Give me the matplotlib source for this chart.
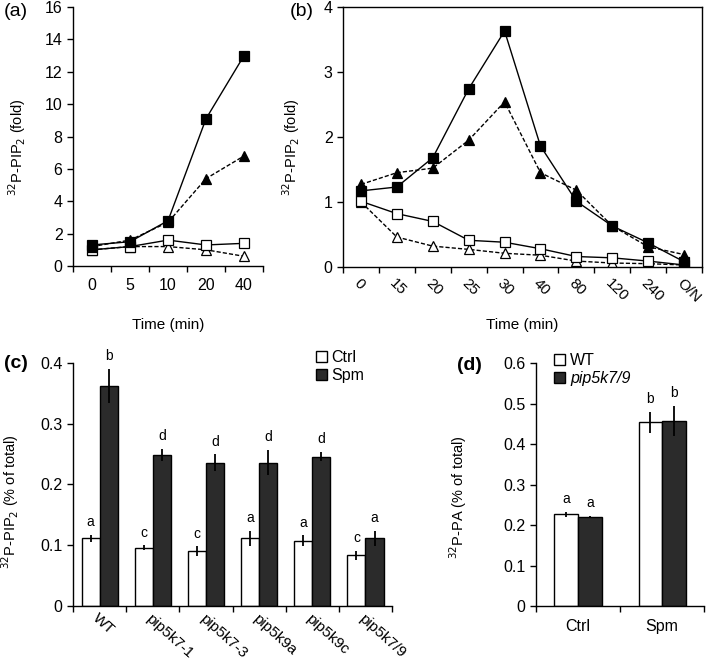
import matplotlib.pyplot as plt
import numpy as np

plt.rcParams['font.family'] = ['Liberation Sans', 'DejaVu Sans']

# panel (a)
time_a = ["0", "5", "10", "20", "40"]
a_spm_wt = [1.3, 1.5, 2.8, 9.1, 13.0]
a_spm_mut = [1.2, 1.6, 2.7, 5.4, 6.8]
a_ctrl_wt = [1.0, 1.2, 1.6, 1.3, 1.4]
a_ctrl_mut = [1.0, 1.2, 1.2, 1.0, 0.6]

# panel (b)
time_b = ["0", "15", "20", "25", "30", "40", "80", "120", "240", "O/N"]
b_spm_wt = [1.17, 1.23, 1.68, 2.74, 3.63, 1.86, 1.01, 0.63, 0.37, 0.08]
b_spm_mut = [1.27, 1.45, 1.52, 1.95, 2.54, 1.45, 1.18, 0.63, 0.31, 0.19]
b_ctrl_wt = [1.01, 0.82, 0.70, 0.41, 0.38, 0.28, 0.16, 0.14, 0.09, 0.03]
b_ctrl_mut = [1.00, 0.46, 0.32, 0.27, 0.21, 0.18, 0.09, 0.06, 0.05, 0.03]

# panel (c)
lines_c = ["WT", "pip5k7-1", "pip5k7-3", "pip5k9a", "pip5k9c", "pip5k7/9"]
c_ctrl = [0.111, 0.096, 0.090, 0.111, 0.107, 0.083]
c_ctrl_err = [0.006, 0.004, 0.008, 0.013, 0.009, 0.0075]
c_spm = [0.363, 0.249, 0.236, 0.236, 0.246, 0.111]
c_spm_err = [0.028, 0.010, 0.014, 0.021, 0.008, 0.0125]
c_ctrl_let = ["a", "c", "c", "a", "a", "c"]
c_spm_let = ["b", "d", "d", "d", "d", "a"]

# panel (d)
treat_d = ["Ctrl", "Spm"]
d_wt = [0.227, 0.454]
d_wt_err = [0.006, 0.026]
d_mut = [0.220, 0.458]
d_mut_err = [0.003, 0.037]
d_wt_let = ["a", "b"]
d_mut_let = ["a", "b"]

dark = "#2b2b2b"

fig = plt.figure(figsize=(7.09, 6.69), dpi=100)


def style_axis(ax, n, box=False):
    ax.set_xlim(-0.5, n - 0.5)
    ax.set_xticks(np.arange(n + 1) - 0.5)
    ax.set_xticklabels([])
    ax.set_xticks(np.arange(n), minor=True)
    ax.tick_params(axis='x', which='minor', length=0)
    ax.tick_params(axis='both', which='major', direction='out', length=4,
                   width=1, labelsize=11.5)
    for s in ax.spines.values():
        s.set_linewidth(1)
    if not box:
        ax.spines['top'].set_visible(False)
        ax.spines['right'].set_visible(False)


def line_panel(ax, cats, s_wt, s_mut, c_wt, c_mut):
    x = np.arange(len(cats))
    kw = dict(color='black', lw=1, markersize=7.5, markeredgecolor='black',
              markeredgewidth=0.9)
    ax.plot(x, c_mut, '--', marker='^', markerfacecolor='white',
            dashes=(3, 1.5), **kw)
    ax.plot(x, c_wt, '-', marker='s', markerfacecolor='white', **kw)
    ax.plot(x, s_mut, '--', marker='^', markerfacecolor='black',
            dashes=(3, 1.5), **kw)
    ax.plot(x, s_wt, '-', marker='s', markerfacecolor='black', **kw)


# (a)
ax_a = fig.add_axes([0.103, 0.6024, 0.268, 0.3871])
line_panel(ax_a, time_a, a_spm_wt, a_spm_mut, a_ctrl_wt, a_ctrl_mut)
style_axis(ax_a, len(time_a))
ax_a.set_xticklabels(time_a, minor=True, fontsize=11.5)
ax_a.tick_params(axis='x', which='minor', pad=9)
ax_a.set_ylim(0, 16)
ax_a.set_yticks(np.arange(0, 17, 2))
ax_a.set_ylabel("$^{32}$P-PIP$_2$ (fold)", fontsize=10.5)
ax_a.yaxis.set_label_coords(-0.235, 0.46)
ax_a.set_xlabel("Time (min)", fontsize=11)
ax_a.xaxis.set_label_coords(0.5, -0.2)

# (b)
ax_b = fig.add_axes([0.4838, 0.601, 0.5064, 0.3886])
line_panel(ax_b, time_b, b_spm_wt, b_spm_mut, b_ctrl_wt, b_ctrl_mut)
style_axis(ax_b, len(time_b), box=True)
ax_b.set_xticklabels(time_b, minor=True, fontsize=11, rotation=-45,
                     ha='left', rotation_mode='anchor')
ax_b.tick_params(axis='x', which='minor', pad=7)
ax_b.set_ylim(0, 4)
ax_b.set_yticks(np.arange(0, 5, 1))
ax_b.set_ylabel("$^{32}$P-PIP$_2$ (fold)", fontsize=10.5)
ax_b.yaxis.set_label_coords(-0.114, 0.46)
ax_b.set_xlabel("Time (min)", fontsize=11)
ax_b.xaxis.set_label_coords(0.5, -0.196)


def bar_panel(ax, cats, v1, e1, v2, e2, l1, l2, w):
    x = np.arange(len(cats))
    ekw = dict(elinewidth=1.3, ecolor='black', capsize=0)
    b1 = ax.bar(x - w / 2, v1, w, yerr=e1, color='white', edgecolor='black',
                linewidth=1, error_kw=ekw)
    b2 = ax.bar(x + w / 2, v2, w, yerr=e2, color=dark, edgecolor='black',
                linewidth=1, error_kw=ekw)
    for xi, v, e, t in zip(x - w / 2, v1, e1, l1):
        ax.annotate(t, (xi, v + e), xytext=(0, 4), textcoords='offset points',
                    ha='center', va='bottom', fontsize=10)
    for xi, v, e, t in zip(x + w / 2, v2, e2, l2):
        ax.annotate(t, (xi, v + e), xytext=(0, 4), textcoords='offset points',
                    ha='center', va='bottom', fontsize=10)
    return b1, b2


# (c)
ax_c = fig.add_axes([0.103, 0.0946, 0.45, 0.3624])
bc1, bc2 = bar_panel(ax_c, lines_c, c_ctrl, c_ctrl_err, c_spm, c_spm_err,
                     c_ctrl_let, c_spm_let, 0.34)
style_axis(ax_c, len(lines_c))
ax_c.set_xticklabels(lines_c, minor=True, fontsize=11, rotation=-42,
                     ha='left', rotation_mode='anchor')
ax_c.tick_params(axis='x', which='minor', pad=4)
ax_c.set_ylim(0, 0.4)
ax_c.set_yticks([0, 0.1, 0.2, 0.3, 0.4])
ax_c.set_yticklabels(["0", "0.1", "0.2", "0.3", "0.4"])
ax_c.set_ylabel("$^{32}$P-PIP$_2$ (% of total)", fontsize=10.5)
ax_c.yaxis.set_label_coords(-0.163, 0.43)
ax_c.legend([bc1, bc2], ["Ctrl", "Spm"], loc='upper left',
            bbox_to_anchor=(0.74, 1.08), frameon=False, fontsize=11.5,
            handlelength=0.7, handleheight=0.7, handletextpad=0.3,
            labelspacing=0.2, borderaxespad=0)

# (d)
ax_d = fig.add_axes([0.756, 0.094, 0.237, 0.3628])
bd1, bd2 = bar_panel(ax_d, treat_d, d_wt, d_wt_err, d_mut, d_mut_err,
                     d_wt_let, d_mut_let, 0.28)
style_axis(ax_d, len(treat_d))
ax_d.set_xticklabels(treat_d, minor=True, fontsize=11.5)
ax_d.tick_params(axis='x', which='minor', pad=9)
ax_d.set_ylim(0, 0.6)
ax_d.set_yticks(np.arange(0, 0.61, 0.1))
ax_d.set_yticklabels(["0", "0.1", "0.2", "0.3", "0.4", "0.5", "0.6"])
ax_d.set_ylabel("$^{32}$P-PA (% of total)", fontsize=10.5)
ax_d.yaxis.set_label_coords(-0.40, 0.45)
leg = ax_d.legend([bd1, bd2], ["WT", "pip5k7/9"], loc='upper left',
                  bbox_to_anchor=(0.07, 1.07), frameon=False, fontsize=11.5,
                  handlelength=0.7, handleheight=0.7, handletextpad=0.3,
                  labelspacing=0.2, borderaxespad=0)
leg.get_texts()[1].set_style('italic')

# panel labels
fig.text(0.005, 0.983, "(a)", fontsize=14, va='center')
fig.text(0.408, 0.983, "(b)", fontsize=14, va='center')
fig.text(0.005, 0.457, "(c)", fontsize=14, va='center', weight='bold')
fig.text(0.645, 0.454, "(d)", fontsize=14, va='center', weight='bold')

fig.savefig("out.png", dpi=100)
